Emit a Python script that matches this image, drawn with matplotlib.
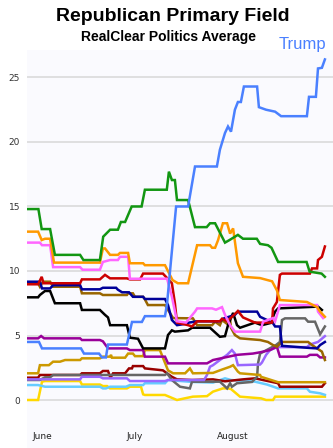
import matplotlib
matplotlib.use("Agg")
import matplotlib.pyplot as plt

# days counted from May 30; values are poll averages (%)
trump_days = [0, 4, 5, 18, 19, 24, 25, 26.3, 27, 33.3, 35, 38.3, 39.3, 46, 46.7, 48, 49.7, 53.7, 56, 63.3,
              64.3, 66, 67, 68, 69.3, 70.3, 71.3, 72.3, 76.7, 77.3, 79.7, 82.7, 84.7, 93.3, 94, 96.3, 97, 98.3, 99.3]
trump_vals = [4.5, 4.5, 4.0, 4.0, 3.6, 3.6, 3.3, 3.3, 4.3, 4.3, 6.05, 6.05, 6.5, 6.5, 7.5, 10.8, 15.0, 15.0, 18.1, 18.1,
              19.4, 20.7, 21.2, 20.8, 22.5, 23.1, 23.1, 24.3, 24.3, 22.7, 22.5, 22.35, 22.0, 22.0, 23.5, 23.5, 25.7, 25.75, 26.4]

green_days = [0, 3.8, 4.9, 7.7, 9.3, 17.7, 18.8, 24.3, 25.4, 26, 27.7, 30.3, 31.3, 32.7, 34.9, 38.2, 39.3, 46.6, 47.3,
              48.3, 49.3, 50, 53.7, 56, 59.9, 61, 62.7, 66, 67.5, 70.3, 72, 76.6, 77.7, 80.3, 81.5, 82.7, 83.7, 93.2,
              94.2, 98.2, 99.3]
green_vals = [14.8, 14.8, 13.25, 13.25, 11.25, 11.25, 10.85, 10.85, 12.66, 12.8, 13.2, 13.2, 13.8, 13.8, 15.0, 15.0,
              16.3, 16.3, 17.7, 17.05, 17.05, 15.5, 15.5, 13.4, 13.4, 13.7, 13.7, 12.2, 12.4, 12.8, 12.5, 12.5, 12.1,
              12.0, 11.8, 11.2, 10.7, 10.7, 9.95, 9.8, 9.55]

orange_days = [0, 3.7, 4.9, 6, 7.7, 9, 24.3, 25.3, 26, 27.7, 30.3, 31, 33.7, 34.3, 38.7, 39.3, 46, 48.5, 50.3, 53.7,
               56.7, 61, 61.7, 62.7, 63.7, 65.3, 66.7, 67.7, 68.7, 70.3, 72, 77.7, 81.7, 83.3, 84.3, 93.3, 96.7, 97.7, 99.3]
orange_vals = [13.05, 13.05, 12.4, 12.5, 12.5, 10.65, 10.65, 11.75, 11.75, 11.25, 11.25, 11.4, 11.4, 10.6, 10.6, 10.45,
               10.45, 9.3, 9.05, 9.05, 12.0, 12.0, 11.8, 11.8, 12.4, 13.7, 13.7, 12.9, 13.3, 10.6, 9.55, 9.45, 9.2,
               8.5, 7.75, 7.6, 7.2, 6.85, 6.45]

pink_days = [0, 4.3, 5, 7.7, 8.7, 17.7, 18.5, 24.3, 25.3, 27.7, 30.3, 31, 33.7, 34.3, 46.7, 48.3, 50, 53, 56, 56.7,
             61.7, 63, 65, 66, 67.7, 69.3, 77.7, 78.7, 82, 82.7, 84.3, 96.7, 97, 98.7]
pink_vals = [12.2, 12.2, 12.0, 12.0, 10.3, 10.3, 10.1, 10.1, 10.7, 10.85, 10.85, 11.1, 11.1, 9.4, 9.4, 8.0, 6.1, 6.0,
             6.85, 7.1, 7.1, 7.0, 7.2, 6.6, 5.8, 5.3, 5.3, 6.07, 6.35, 6.1, 7.36, 7.36, 6.85, 6.35]

red_days = [0, 3.7, 4.9, 5.5, 17.7, 18.3, 24.3, 26, 27.7, 33.3, 34.3, 37.7, 38.7, 45.3, 48.3, 49.3, 50, 53.7, 55,
            56.7, 64.3, 65, 66.7, 69, 70.3, 72, 76, 81.7, 82, 83.3, 84.3, 85, 94.3, 95, 96.7, 97, 98.3, 99.3]
red_vals = [8.97, 8.97, 9.55, 9.05, 9.05, 9.35, 9.35, 9.7, 9.43, 9.43, 9.35, 9.35, 9.8, 9.8, 9.05, 7.5, 6.0, 5.8, 5.7,
            6.1, 6.1, 6.3, 6.1, 6.6, 6.9, 6.4, 6.0, 6.0, 7.1, 7.6, 9.7, 9.8, 9.8, 10.2, 10.2, 10.85, 11.1, 11.9]

navy_days = [0, 4.3, 5, 7.7, 8.7, 17.7, 18.3, 24.3, 25.3, 29.7, 30.3, 31.7, 34, 35.3, 38.7, 39.3, 46, 47, 48.3, 50,
             52.7, 54, 56.7, 64.3, 65.3, 69.3, 70.3, 76.7, 77.7, 80, 82, 82.7, 84.3, 85, 93.3, 96.7, 97.7, 99.3]
navy_vals = [9.17, 9.17, 8.65, 8.65, 8.9, 8.9, 8.58, 8.58, 8.7, 8.7, 8.55, 8.35, 8.35, 8.0, 8.0, 7.83, 7.83, 7.36,
             6.2, 5.8, 5.9, 6.0, 6.1, 6.1, 6.3, 6.6, 6.85, 6.85, 6.45, 6.2, 5.95, 5.7, 5.7, 4.2, 4.05, 4.0, 4.26, 4.5]

black_days = [0, 3.7, 4.3, 6, 7.7, 9.3, 17.7, 18.3, 24.3, 26, 27, 27.7, 33.3, 34.3, 37, 38.7, 46, 47, 48.3, 49.3,
              53.7, 55, 61, 64.3, 66, 67, 68.7, 70, 71, 76, 78.3, 81.7, 82, 82.7, 83.7, 97, 98.3]
black_vals = [7.96, 7.96, 8.14, 8.45, 8.45, 7.5, 7.5, 6.98, 6.98, 6.6, 6.4, 5.8, 5.8, 4.83, 4.75, 4.0, 4.0, 5.04,
              5.4, 5.3, 5.4, 5.6, 5.6, 4.9, 4.95, 5.8, 6.75, 5.8, 5.6, 6.0, 5.8, 6.0, 6.45, 6.85, 7.1, 7.24, 6.98]

brown_days = [0, 3.7, 4.3, 5.3, 7.7, 8.7, 17.7, 18.3, 24.3, 25.3, 33.3, 33.7, 35.3, 36, 38.7, 39.3, 40.3, 46, 48.7,
              55.3, 56.7, 61.7, 62.7, 64.3, 65, 66.7, 67.7, 68, 69.3, 71, 77.7, 80.3, 82, 83.3, 85, 93.7, 95, 96.7,
              98.3, 99.3]
brown_vals = [9.05, 9.05, 8.78, 9.17, 9.17, 8.78, 8.78, 8.27, 8.27, 8.14, 8.14, 8.27, 8.27, 8.0, 8.0, 7.8, 7.36,
              7.36, 6.35, 6.33, 5.8, 5.8, 6.07, 5.8, 6.2, 5.9, 6.2, 5.6, 5.04, 4.78, 4.65, 4.5, 4.26, 4.13, 4.5, 4.5,
              4.26, 4.0, 3.75, 3.1]

gold_days = [0, 3.7, 4.3, 7.3, 8.7, 11, 12.7, 17.7, 18.3, 24.3, 25.3, 27.7, 28, 28.3, 32.7, 33.7, 35.3, 36, 38.7,
             39.3, 44.3, 47, 48.7, 52.7, 54.3, 55.3, 62, 64.3, 67.7, 68.7, 70.3, 71, 77.7, 78, 83.7, 99.3]
gold_vals = [2.07, 2.07, 2.7, 2.7, 2.97, 2.97, 3.1, 3.1, 3.23, 3.23, 3.36, 3.36, 3.5, 3.28, 3.28, 3.6, 3.6, 3.4,
             3.4, 3.87, 3.87, 2.3, 2.07, 2.07, 2.45, 2.07, 2.1, 2.3, 2.58, 2.7, 2.2, 2.07, 1.94, 1.8, 1.38, 1.38]

purple_days = [0, 3.7, 4.7, 5.7, 17.7, 18.3, 24.3, 25.3, 27, 33.3, 34.3, 38.7, 39.3, 46, 47, 60, 62, 70, 75.3,
               77.7, 81, 83.3, 84.3, 93.3, 94.3, 96.7, 97.7, 99.3]
purple_vals = [4.78, 4.78, 4.96, 4.78, 4.78, 4.65, 4.65, 4.55, 4.0, 4.0, 3.87, 3.87, 3.36, 3.36, 2.84, 2.84, 3.1,
               3.5, 3.6, 3.7, 3.87, 4.13, 3.36, 3.36, 3.5, 3.5, 3.3, 3.3]

lavender_days = [0, 17.7, 18.3, 24.3, 25.3, 33.3, 34.3, 46, 47, 59, 60, 61, 62, 64.3, 66.7, 68.3, 69.3, 70.3, 77.7,
                 78.3, 79.7, 81, 83.3, 93.3, 94.3, 97, 99.3]
lavender_vals = [1.6, 1.6, 1.8, 1.8, 1.68, 1.68, 1.47, 1.47, 1.55, 1.55, 1.94, 2.58, 2.7, 3.1, 3.5, 3.87, 3.6, 2.7,
                 2.75, 2.9, 3.5, 3.87, 4.1, 4.1, 4.3, 4.5, 4.95]

gray_days = [0, 4.3, 6, 7.7, 8.7, 46, 46.7, 48.3, 51, 54.3, 55, 64.3, 66.7, 67.7, 68.3, 70, 75, 76.7, 77, 77.7, 83,
             84.3, 85, 86, 92.7, 93.7, 96, 97.7, 99.3]
gray_vals = [1.55, 1.55, 1.76, 1.76, 1.94, 1.94, 2.07, 1.55, 1.03, 0.9, 1.42, 1.42, 0.9, 1.3, 1.03, 1.3, 1.4, 1.8,
             2.84, 3.6, 4.26, 4.5, 6.2, 6.33, 6.33, 6.07, 6.07, 5.1, 5.7]

darkred_days = [0, 3.7, 4.3, 17.7, 18.3, 24.3, 25.3, 27, 27.7, 28, 28.7, 32.7, 34, 35, 35.3, 38.7, 39.3, 45.3, 48.3,
                50, 55, 62, 66, 72, 76, 83.7, 84.3, 98.3, 99.3]
darkred_vals = [1.73, 1.73, 1.94, 1.94, 2.07, 2.07, 2.25, 2.25, 1.8, 1.8, 2.07, 2.07, 2.45, 2.45, 2.63, 2.63, 2.45,
                2.3, 1.8, 1.6, 1.55, 1.6, 1.45, 1.6, 1.68, 1.3, 1.03, 1.03, 1.3]

cyan_days = [0, 3.7, 6, 24.3, 25.3, 26.3, 27.7, 33, 34.3, 38.7, 39.3, 46, 47, 55, 62, 66, 68, 76, 80, 83.7, 93.3,
             94.3, 97.7, 99.3]
cyan_vals = [1.16, 1.16, 1.03, 1.03, 0.9, 0.9, 1.03, 1.03, 1.16, 1.16, 1.3, 1.3, 1.55, 1.4, 1.35, 1.68, 1.55, 1.42,
             1.2, 0.9, 0.9, 0.64, 0.52, 0.4]

yellow_days = [0, 3.7, 5, 6, 17.7, 18.3, 24.3, 25.3, 26.7, 27.7, 33.3, 34.3, 38, 38.7, 39.3, 46, 50, 53, 55.3, 60,
               62, 65.3, 67, 68, 71, 78, 79.7, 82, 82.7, 99.3]
yellow_vals = [0.0, 0.0, 1.42, 1.47, 1.47, 1.2, 1.2, 1.08, 1.08, 0.9, 0.9, 1.03, 1.03, 0.44, 0.39, 0.39, 0.0, 0.15,
               0.26, 0.3, 0.65, 0.9, 0.9, 0.85, 0.26, 0.13, 0.0, 0.0, 0.26, 0.26]

series = [
    (yellow_days, yellow_vals, "#ffd800"),
    (cyan_days, cyan_vals, "#66ccff"),
    (darkred_days, darkred_vals, "#990000"),
    (gray_days, gray_vals, "#666666"),
    (lavender_days, lavender_vals, "#9966ff"),
    (gold_days, gold_vals, "#cc9900"),
    (purple_days, purple_vals, "#990099"),
    (brown_days, brown_vals, "#996600"),
    (black_days, black_vals, "#000000"),
    (navy_days, navy_vals, "#000099"),
    (red_days, red_vals, "#cc0000"),
    (pink_days, pink_vals, "#ff66ff"),
    (orange_days, orange_vals, "#ff9900"),
    (green_days, green_vals, "#129612"),
    (trump_days, trump_vals, "#4a80ff"),
]

y_ticks = [0, 5, 10, 15, 20, 25]
month_names = ["June", "July", "August"]
month_days = [1.7, 33, 63.3]

fig = plt.figure(figsize=(3.33, 4.48), dpi=100)
ax = fig.add_axes([27 / 333, 0, 306 / 333, 1 - 50 / 448])
ax.set_facecolor("#fafafe")

for d, v, c in series:
    ax.plot(d, v, color=c, lw=1.8, solid_joinstyle="miter")

ax.set_xlim(0, 102)
ax.set_ylim(-3.72, 27.13)
ax.set_yticks(y_ticks)
ax.set_yticklabels([str(t) for t in y_ticks], fontsize=6.5, color="#333333")
ax.set_xticks([])
ax.tick_params(axis="y", length=0, pad=5)
ax.grid(axis="y", color="#dddddd", lw=1.3)
ax.set_axisbelow(True)
for s in ax.spines.values():
    s.set_visible(False)

for name, d in zip(month_names, month_days):
    ax.text(d, -2.8, name, fontsize=6.5, color="#222222", ha="left", va="center")

fig.text(0.518, 1 - 21 / 448, "Republican Primary Field", fontsize=14, weight="bold",
         family="Liberation Sans", ha="center", va="baseline")
fig.text(0.5075, 1 - 40.7 / 448, "RealClear Politics Average", fontsize=10, weight="bold",
         family="Liberation Sans", ha="center", va="baseline")
fig.text(302 / 333, 1 - 49.5 / 448, "Trump", fontsize=12, color="#4a80ff",
         family="Liberation Sans", ha="center", va="baseline")

fig.savefig("out.png", dpi=100)
